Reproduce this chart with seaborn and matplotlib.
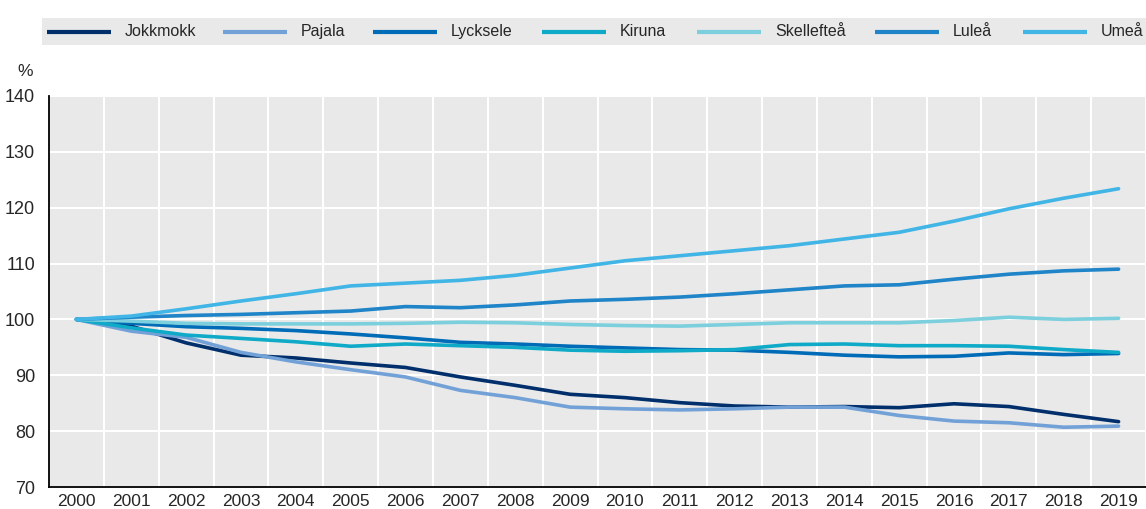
import numpy as np
import pandas as pd
import matplotlib
matplotlib.use("Agg")
import matplotlib.pyplot as plt
import seaborn as sns

years = list(range(2000, 2020))

jokkmokk = [100, 98.8, 95.8, 93.6, 93.1, 92.2, 91.4, 89.7, 88.2, 86.6, 86.0, 85.1, 84.5, 84.3,
            84.4, 84.2, 84.9, 84.4, 83.0, 81.7]
pajala = [100, 97.9, 96.8, 94.1, 92.4, 91.0, 89.7, 87.3, 86.0, 84.3, 84.0, 83.8, 84.0, 84.3,
          84.3, 82.8, 81.8, 81.5, 80.7, 80.9]
lycksele = [100, 99.3, 98.7, 98.4, 98.0, 97.4, 96.7, 95.9, 95.6, 95.2, 94.9, 94.6, 94.5, 94.1,
            93.6, 93.3, 93.4, 94.0, 93.7, 93.9]
kiruna = [100, 98.5, 97.2, 96.6, 96.0, 95.2, 95.6, 95.3, 95.0, 94.5, 94.3, 94.4, 94.6, 95.5,
          95.6, 95.3, 95.3, 95.2, 94.6, 94.1]
skelleftea = [100, 99.7, 99.3, 99.2, 99.2, 99.2, 99.3, 99.5, 99.4, 99.1, 98.9, 98.8, 99.1, 99.4,
              99.4, 99.4, 99.8, 100.4, 100.0, 100.2]
lulea = [100, 100.4, 100.7, 100.9, 101.2, 101.5, 102.3, 102.1, 102.6, 103.3, 103.6, 104.0, 104.6, 105.3,
         106.0, 106.2, 107.2, 108.1, 108.7, 109.0]
umea = [100, 100.6, 101.9, 103.3, 104.6, 106.0, 106.5, 107.0, 107.9, 109.2, 110.5, 111.4, 112.3, 113.2,
        114.4, 115.6, 117.6, 119.8, 121.7, 123.4]

names = ["Jokkmokk", "Pajala", "Lycksele", "Kiruna", "Skellefteå", "Luleå", "Umeå"]
series = [jokkmokk, pajala, lycksele, kiruna, skelleftea, lulea, umea]
colors = ["#002f6c", "#72a1d8", "#006bb6", "#0eaac8", "#7ccfdd", "#1f84c8", "#41b5e6"]

rows = []
for name, vals in zip(names, series):
    for i, v in enumerate(vals):
        rows.append({"idx": i, "value": v, "town": name})
df = pd.DataFrame(rows)

sns.set_style("white")
plt.rcParams["font.family"] = ["Liberation Sans Narrow", "Liberation Sans", "DejaVu Sans"]

W, H = 1146, 509
fig = plt.figure(figsize=(W / 100, H / 100), dpi=100)
ax = fig.add_axes([49 / W, 1 - 487 / H, 1 - 49 / W, (487 - 96) / H])
ax.set_facecolor("#e9e9e9")

sns.lineplot(data=df, x="idx", y="value", hue="town", hue_order=names,
             palette=colors, linewidth=2.6, ax=ax, legend=False,
             solid_capstyle="round", solid_joinstyle="round")

ax.set_xlim(-0.5, -0.5 + (W - 49) / 55.15)
ax.set_ylim(70, 140)
ax.set_yticks(range(70, 141, 10))
ax.set_xticks(np.arange(0.5, 19.6, 1))
ax.set_xticklabels([])
ax.set_xticks(range(20), minor=True)
ax.set_xticklabels([str(y) for y in years], minor=True)
ax.tick_params(axis="x", which="major", length=5, width=1.3, color="black", direction="in")
ax.tick_params(axis="x", which="minor", length=0, labelsize=12.5, pad=5)
ax.tick_params(axis="y", length=5, width=1.3, color="black", direction="in", labelsize=13, pad=10)
ax.grid(True, which="major", color="white", linewidth=1.5)
ax.set_axisbelow(True)
for s in ["top", "right"]:
    ax.spines[s].set_visible(False)
for s in ["left", "bottom"]:
    ax.spines[s].set_color("black")
    ax.spines[s].set_linewidth(1.3)
ax.set_xlabel("")
ax.set_ylabel("")

fig.text(25 / W, 1 - 72 / H, "%", fontsize=12.5, ha="center", va="center")

# legend band, laid out in pixel coordinates
leg_ax = fig.add_axes([42 / W, 1 - 45 / H, 1 - 42 / W, 27 / H])
leg_ax.set_facecolor("#e9e9e9")
leg_ax.set_xlim(42, W)
leg_ax.set_ylim(0, 27)
leg_ax.set_xticks([])
leg_ax.set_yticks([])
for s in leg_ax.spines.values():
    s.set_visible(False)
handle_starts = [47, 223, 373, 542, 697, 875, 1023]
for x0, name, c in zip(handle_starts, names, colors):
    leg_ax.plot([x0, x0 + 64], [13.5, 13.5], color=c, linewidth=3, solid_capstyle="butt")
    leg_ax.text(x0 + 78, 13.5, name, fontsize=11.5, ha="left", va="center")

fig.savefig("out.png", dpi=100)
